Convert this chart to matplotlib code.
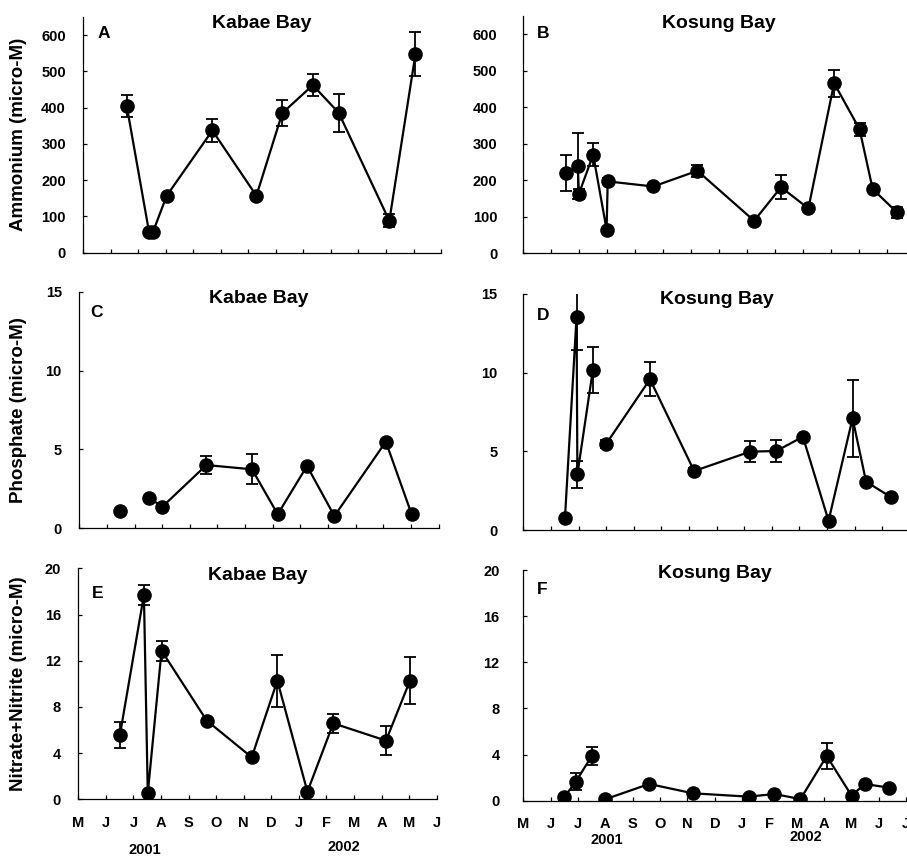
import numpy as np
import matplotlib
matplotlib.use('Agg')
import matplotlib.pyplot as plt

plt.rcParams['font.family'] = ['Liberation Sans', 'DejaVu Sans']
plt.rcParams['font.weight'] = 'bold'

W, H = 907, 857

month_labels = ['M', 'J', 'J', 'A', 'S', 'O', 'N', 'D', 'J', 'F', 'M', 'A', 'M', 'J']
month_labels_kosung = month_labels + ['J']

# sampling dates, in months after 1 May 2001
kabae_nh4_t = [1.58, 2.39, 2.53, 3.03, 4.69, 6.29, 7.23, 8.34, 9.28, 11.12, 12.07]
kabae_nh4 = [404, 57, 57, 157, 337, 157, 385, 462, 386, 88, 548]
kabae_nh4_se = [30, 0, 0, 0, 33, 0, 36, 30, 53, 18, 60]

kosung_nh4_t = [1.53, 1.95, 1.99, 2.50, 2.98, 3.02, 4.65, 6.23, 8.26, 9.22, 10.20, 11.12, 12.03, 12.50, 13.37]
kosung_nh4 = [221, 240, 163, 270, 65, 197, 183, 226, 89, 181, 123, 466, 340, 176, 112]
kosung_nh4_se = [49, 90, 13, 31, 0, 8, 0, 16, 0, 33, 0, 37, 18, 0, 14]

kabae_po4_t = [1.49, 2.52, 3.01, 4.60, 6.25, 7.18, 8.24, 9.23, 11.09, 12.02]
kabae_po4 = [1.12, 1.94, 1.37, 4.01, 3.74, 0.89, 3.95, 0.78, 5.49, 0.91]
kabae_po4_se = [0, 0, 0, 0.55, 0.95, 0, 0.15, 0, 0, 0]

kosung_po4_t = [1.51, 1.93, 1.96, 2.52, 2.99, 4.59, 6.19, 8.22, 9.17, 10.13, 11.06, 11.93, 12.42, 13.33]
kosung_po4 = [0.78, 13.56, 3.54, 10.17, 5.44, 9.58, 3.75, 4.98, 5.02, 5.93, 0.59, 7.10, 3.07, 2.08]
kosung_po4_se = [0, 2.1, 0.85, 1.45, 0.25, 1.07, 0.2, 0.66, 0.72, 0, 0, 2.43, 0, 0.1]

kabae_nox_t = [1.51, 2.38, 2.52, 3.02, 4.66, 6.29, 7.22, 8.31, 9.25, 11.16, 12.03]
kabae_nox = [5.57, 17.69, 0.52, 12.87, 6.81, 3.64, 10.27, 0.66, 6.58, 5.08, 10.27]
kabae_nox_se = [1.15, 0.87, 0, 0.87, 0.15, 0, 2.24, 0, 0.8, 1.27, 2.02]

kosung_nox_t = [1.49, 1.92, 2.50, 2.99, 4.60, 6.20, 8.24, 9.18, 10.13, 11.09, 12.00, 12.48, 13.37]
kosung_nox = [0.29, 1.65, 3.87, 0.12, 1.45, 0.64, 0.35, 0.58, 0.14, 3.87, 0.43, 1.45, 1.13]
kosung_nox_se = [0, 0.75, 0.77, 0, 0, 0, 0, 0, 0, 1.15, 0, 0, 0]

# indices where the connecting line restarts
kabae_po4_breaks = [1]
kosung_po4_breaks = [4]
kosung_nox_breaks = [3]

fig = plt.figure(figsize=(W / 100, H / 100), dpi=100)


def px_axes(left, top, bottom, month_w, n):
    return fig.add_axes([left / W, 1 - bottom / H, month_w * n / W, (bottom - top) / H])


def draw(ax, t, v, se, breaks=()):
    t, v, se = map(np.asarray, (t, v, se))
    ax.errorbar(t, v, yerr=se, fmt='none', ecolor='black', elinewidth=1.3,
                capsize=4, capthick=1.3, zorder=2)
    cuts = [0] + list(breaks) + [len(t)]
    for a, b in zip(cuts[:-1], cuts[1:]):
        ax.plot(t[a:b], v[a:b], '-o', color='black', lw=1.6, ms=9.5, zorder=3)


def style(ax, nmonths, ylim, yticks, ypad, bottom_labels, labels):
    ax.set_xlim(0, nmonths)
    ax.set_ylim(*ylim)
    ax.set_xticks(range(nmonths + 1))
    ax.set_yticks(yticks)
    for s in ['top', 'right']:
        ax.spines[s].set_visible(False)
    for s in ['left', 'bottom']:
        ax.spines[s].set_linewidth(0.9)
    ax.tick_params(direction='in', length=3, width=0.9)
    ax.tick_params(axis='y', pad=ypad, labelsize=10.5)
    if bottom_labels:
        ax.set_xticklabels(labels)
        ax.tick_params(axis='x', pad=12, labelsize=10.5)
    else:
        ax.set_xticklabels([])


def decorate(ax, title, letter, letter_off, title_off):
    ax.annotate(title, xy=(0.5, 1), xycoords='axes fraction', xytext=(0, title_off),
                textcoords='offset points', ha='center', va='baseline', fontsize=14)
    ax.annotate(letter, xy=(0, 1), xycoords='axes fraction', xytext=letter_off,
                textcoords='offset points', ha='left', va='baseline', fontsize=12.5)


axA = px_axes(83.3, 17, 252.7, 27.52, 13)
axB = px_axes(523.3, 16, 253.3, 27.95, 14)
axC = px_axes(79.2, 291.7, 528.3, 27.65, 13)
axD = px_axes(523.3, 294, 530, 27.6, 14)
axE = px_axes(78.3, 568.3, 799.3, 27.57, 13)
axF = px_axes(523.3, 570, 800.7, 27.36, 14)

draw(axA, kabae_nh4_t, kabae_nh4, kabae_nh4_se)
draw(axB, kosung_nh4_t, kosung_nh4, kosung_nh4_se)
draw(axC, kabae_po4_t, kabae_po4, kabae_po4_se, kabae_po4_breaks)
draw(axD, kosung_po4_t, kosung_po4, kosung_po4_se, kosung_po4_breaks)
draw(axE, kabae_nox_t, kabae_nox, kabae_nox_se)
draw(axF, kosung_nox_t, kosung_nox, kosung_nox_se, kosung_nox_breaks)

style(axA, 13, (0, 650), range(0, 601, 100), 12.5, False, month_labels)
style(axB, 14, (0, 650), range(0, 601, 100), 18.5, False, month_labels_kosung)
style(axC, 13, (0, 15), [0, 5, 10, 15], 12.5, False, month_labels)
style(axD, 14, (0, 15), [0, 5, 10, 15], 18.5, False, month_labels_kosung)
style(axE, 13, (0, 20), range(0, 21, 4), 12.5, True, month_labels)
style(axF, 14, (0, 20), range(0, 21, 4), 17, True, month_labels_kosung)

decorate(axA, 'Kabae Bay', 'A', (10, -15), -8)
decorate(axB, 'Kosung Bay', 'B', (10, -15.5), -9)
decorate(axC, 'Kabae Bay', 'C', (8, -18), -8)
decorate(axD, 'Kosung Bay', 'D', (10, -19), -7)
decorate(axE, 'Kabae Bay', 'E', (9.5, -21.5), -8.5)
decorate(axF, 'Kosung Bay', 'F', (9.5, -17.5), -6)

# y-axis titles, centred on each row
for label, ax in [('Ammonium (micro-M)', axA), ('Phosphate (micro-M)', axC),
                  ('Nitrate+Nitrite (micro-M)', axE)]:
    pos = ax.get_position()
    fig.text(19 / W, pos.y0 + pos.height / 2, label, rotation=90,
             ha='center', va='center', fontsize=13.5)

# year labels under the month axis
for ax, year, month, off in [(axE, '2001', 2.42, -36.5), (axE, '2002', 9.63, -34.5),
                             (axF, '2001', 3.06, -28), (axF, '2002', 10.33, -26)]:
    ax.annotate(year, xy=(month, 0), xycoords='data', xytext=(0, off),
                textcoords='offset points', ha='center', va='center',
                fontsize=10.5, annotation_clip=False)

fig.savefig('out.png', dpi=100)
